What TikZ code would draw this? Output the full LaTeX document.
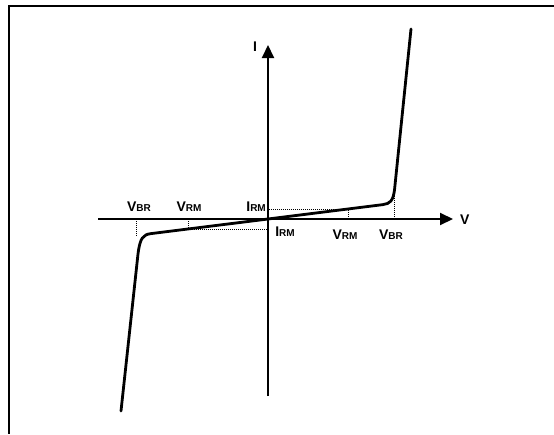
\documentclass[tikz,border=0pt]{standalone}
\usepackage{fontspec}
\setmainfont{Liberation Sans}
\usetikzlibrary{arrows.meta}
\newcommand\vlab[2]{{\bfseries\fontsize{14}{14}\selectfont #1}{\bfseries\fontsize{10}{10}\selectfont #2}}
\tikzset{
  frame/.style={line width=2pt},
  axis/.style={line width=2pt,-{Triangle[length=13pt,width=12pt]}},
  curve/.style={line width=2.8pt,line join=round,line cap=round},
  dots/.style={line width=1pt,dash pattern=on 1pt off 1pt},
  lab/.style={inner sep=0pt,anchor=base},
}
\begin{document}
\begin{tikzpicture}[x=1pt,y=-1pt]
\useasboundingbox (0,0) rectangle (554,434);
% frame (top and left only)
\coordinate (fTR) at (554,5.5);
\coordinate (fTL) at (9,5.5);
\coordinate (fBL) at (9,434);
\draw[frame] (fTR) -- (fTL) -- (fBL);
% axes
\coordinate (O) at (268,219);
\coordinate (xL) at (98,219);
\coordinate (xR) at (453,219);
\coordinate (yB) at (268,396);
\coordinate (yT) at (268,45);
\draw[axis] (xL) -- (xR);
\draw[axis] (yB) -- (yT);
% dotted guides
\coordinate (rBRa) at (394,219);
\coordinate (rBRb) at (394,196);
\coordinate (rRMa) at (348,219);
\coordinate (rRMb) at (348,209);
\coordinate (iUp) at (268,209);
\coordinate (lBRa) at (136.5,219);
\coordinate (lBRb) at (136.5,236);
\coordinate (lRMa) at (188,219);
\coordinate (lRMb) at (188,229);
\coordinate (iDn) at (268,229);
\draw[dots] (rBRa) -- (rBRb);
\draw[dots] (rRMa) -- (rRMb) -- (iUp);
\draw[dots] (lBRa) -- (lBRb);
\draw[dots] (lRMa) -- (lRMb) -- (iDn);
% characteristic
\coordinate (cTop) at (411,29);
\coordinate (cRk) at (394.5,190);
\coordinate (cRh) at (383,204.6);
\coordinate (cLh) at (151,233.6);
\coordinate (cLk) at (138,254);
\coordinate (cBot) at (121,411);
\draw[curve] (cBot) -- (cLk) .. controls (140,238) and (143,234.6) .. (cLh) -- (O)
  -- (cRh) .. controls (390,203.7) and (393,201) .. (cRk) -- (cTop);
% labels
\node[lab] (lVBR) at (139,211) {\vlab{V}{BR}};
\node[lab] (lVRM) at (189,211) {\vlab{V}{RM}};
\node[lab,anchor=base east] (uIRM) at (266,211.5) {\vlab{I}{RM}};
\node[lab] (dIRM) at (285,236.7) {\vlab{I}{RM}};
\node[lab] (rVRM) at (345,239.5) {\vlab{V}{RM}};
\node[lab] (rVBR) at (391,239.5) {\vlab{V}{BR}};
\node[lab,anchor=base west] (Vlab) at (460,224) {\vlab{V}{}};
\node[lab] (Ilab) at (255,51.5) {\vlab{I}{}};
\end{tikzpicture}
\end{document}
